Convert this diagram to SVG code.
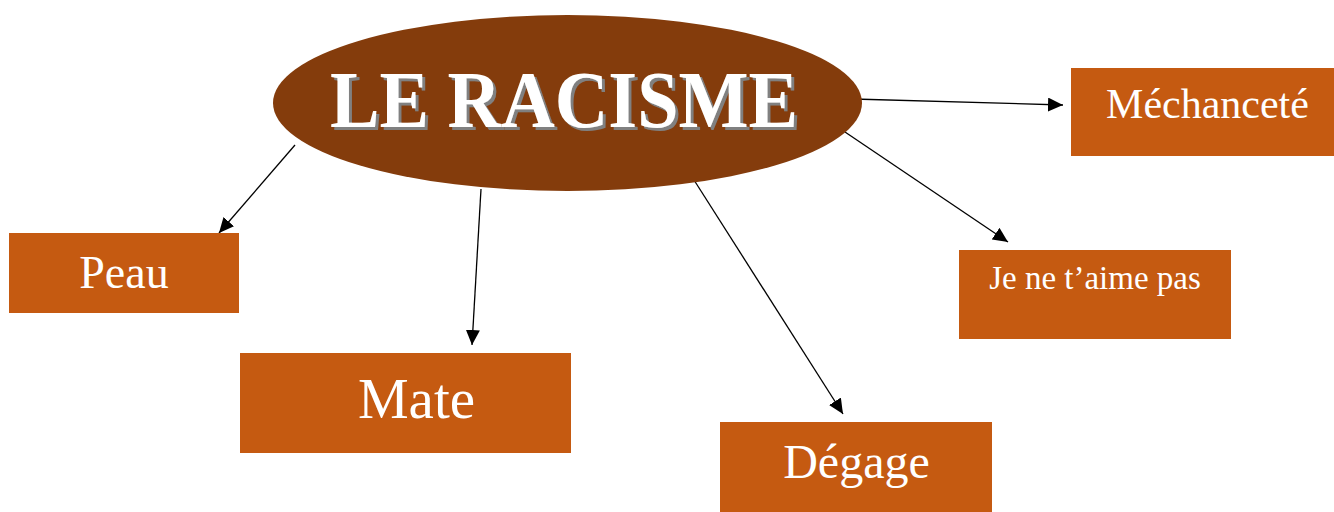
<svg xmlns="http://www.w3.org/2000/svg" width="1334" height="512" viewBox="0 0 1334 512">
<style>
.box{fill:#C55A11}
.lbl{fill:#ffffff;font-family:"Liberation Serif","Times New Roman",serif}
.conn{stroke:#000;stroke-width:1.3;fill:none;marker-end:url(#arr)}
.title{font-family:"Liberation Serif","Times New Roman",serif;font-weight:bold;font-size:80px;fill:#ffffff}
</style>
<defs>
<marker id="arr" markerUnits="userSpaceOnUse" markerWidth="16" markerHeight="14" refX="15" refY="7" orient="auto">
<path d="M0,0 L15,7 L0,14 z" fill="#000"/>
</marker>
<filter id="shadow" x="-5%" y="-20%" width="115%" height="150%">
<feOffset in="SourceAlpha" dx="3" dy="3" result="off"/>
<feFlood flood-color="#808080"/>
<feComposite in2="off" operator="in" result="sh"/>
<feMerge><feMergeNode in="sh"/><feMergeNode in="SourceGraphic"/></feMerge>
</filter>
</defs>
<rect width="1334" height="512" fill="#fff"/>
<g id="connectors">
<line class="conn" x1="295" y1="145" x2="219" y2="233"/>
<line class="conn" x1="481" y1="189" x2="472" y2="345"/>
<line class="conn" x1="694" y1="180" x2="843" y2="414"/>
<line class="conn" x1="845" y1="132" x2="1008" y2="242"/>
<line class="conn" x1="853" y1="99" x2="1063" y2="105"/>
</g>
<g id="center">
<ellipse cx="567.5" cy="103" rx="294.5" ry="88" fill="#843C0C"/>
<text class="title" x="330" y="127" filter="url(#shadow)" textLength="468" lengthAdjust="spacingAndGlyphs">LE RACISME</text>
</g>
<g id="peau">
<rect class="box" x="9" y="233" width="230" height="80"/>
<text class="lbl" x="124" y="288" font-size="46" text-anchor="middle">Peau</text>
</g>
<g id="mate">
<rect class="box" x="240" y="353" width="331" height="100"/>
<text class="lbl" x="416.5" y="418" font-size="57" text-anchor="middle">Mate</text>
</g>
<g id="degage">
<rect class="box" x="720" y="422" width="272" height="90"/>
<text class="lbl" x="856.5" y="478" font-size="48" text-anchor="middle">Dégage</text>
</g>
<g id="jeneaime">
<rect class="box" x="959" y="250" width="272" height="89"/>
<text class="lbl" x="1095" y="289" font-size="33" text-anchor="middle">Je ne t’aime pas</text>
</g>
<g id="mechancete">
<rect class="box" x="1071" y="68" width="263" height="88"/>
<text class="lbl" x="1207.5" y="118" font-size="42" text-anchor="middle">Méchanceté</text>
</g>
</svg>
